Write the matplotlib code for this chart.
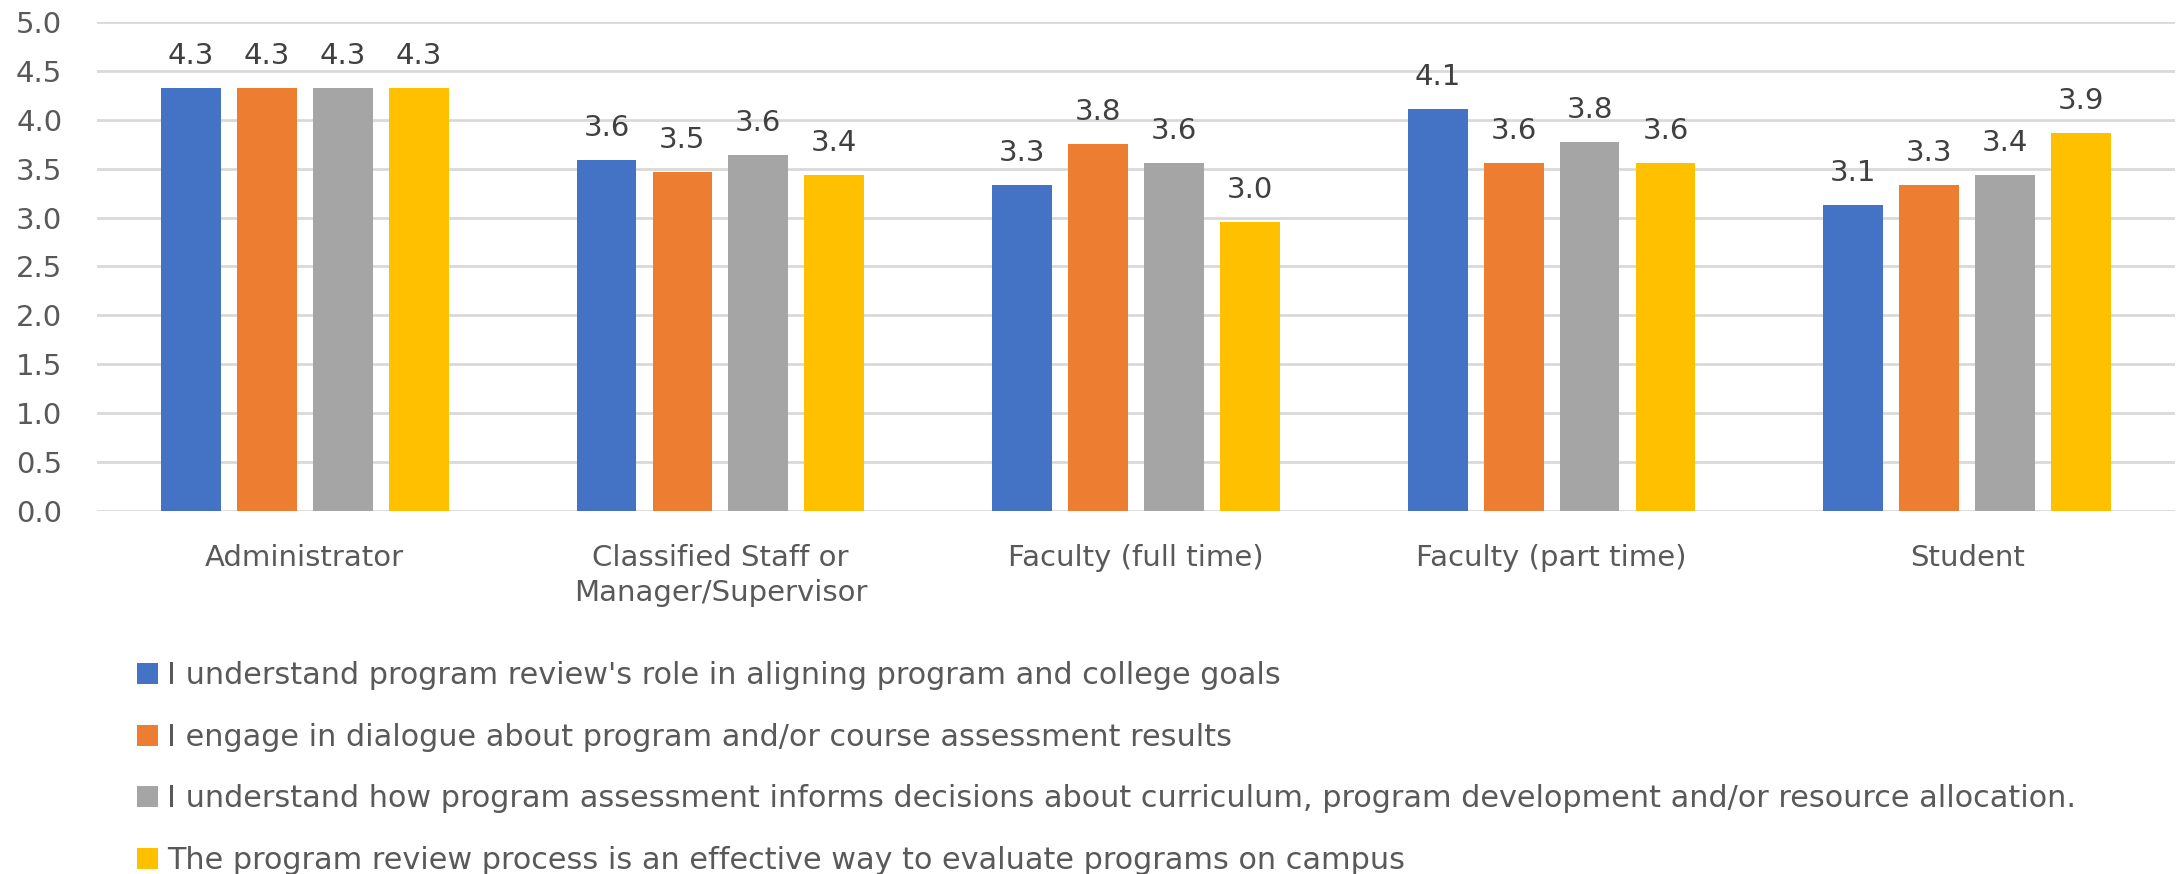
import matplotlib
matplotlib.use('Agg')
import matplotlib.pyplot as plt
import numpy as np
from matplotlib.patches import Patch

categories = ['Administrator', 'Classified Staff or\nManager/Supervisor',
              'Faculty (full time)', 'Faculty (part time)', 'Student']
series_names = [
    "I understand program review's role in aligning program and college goals",
    "I engage in dialogue about program and/or course assessment results",
    "I understand how program assessment informs decisions about curriculum, program development and/or resource allocation.",
    "The program review process is an effective way to evaluate programs on campus",
]
understand_role = [4.33, 3.59, 3.33, 4.11, 3.13]
engage_dialogue = [4.33, 3.47, 3.75, 3.56, 3.33]
assessment_informs = [4.33, 3.64, 3.56, 3.77, 3.44]
effective_process = [4.33, 3.44, 2.95, 3.56, 3.86]
series_values = [understand_role, engage_dialogue, assessment_informs, effective_process]
colors = ['#4472C4', '#ED7D31', '#A5A5A5', '#FFC000']
yticks = [0.0, 0.5, 1.0, 1.5, 2.0, 2.5, 3.0, 3.5, 4.0, 4.5, 5.0]

txt = '#595959'
fs = 21
plt.rcParams['font.family'] = ['DejaVu Sans']

fig = plt.figure(figsize=(21.78, 8.74), dpi=100)
ax = fig.add_axes([97 / 2178, 1 - 511 / 874, (2175 - 97) / 2178, (511 - 22) / 874])

x = np.arange(len(categories))
width = 0.144
step = 0.1827
for j, vals in enumerate(series_values):
    pos = x + (j - 1.5) * step
    bars = ax.bar(pos, vals, width, color=colors[j], zorder=3)
    for b, v in zip(bars, vals):
        ax.annotate(f'{v:.1f}', (b.get_x() + b.get_width() / 2, v),
                    xytext=(0, 24), textcoords='offset pixels',
                    ha='center', va='baseline', fontsize=fs, color='#404040')

ax.set_xlim(-0.5, len(categories) - 0.5)
ax.set_ylim(0, 5)
ax.set_yticks(yticks)
ax.set_yticklabels([f'{t:.1f}' for t in yticks])
ax.set_xticks(x)
ax.set_xticklabels(categories, linespacing=1.3)
ax.tick_params(axis='both', length=0, labelsize=fs, labelcolor=txt)
ax.tick_params(axis='y', pad=25)
ax.tick_params(axis='x', pad=24)
ax.grid(axis='y', color='#D9D9D9', linewidth=2, zorder=0)
for s in ax.spines.values():
    s.set_visible(False)

handles = [Patch(facecolor=c, edgecolor='none') for c in colors]
fig.legend(handles, series_names, loc='upper left', bbox_to_anchor=(137 / 2178, 1 - 661 / 874),
           frameon=False, fontsize=21.8, labelcolor=txt, handlelength=0.7, handleheight=0.7,
           handletextpad=0.3, labelspacing=1.08, borderpad=0, borderaxespad=0)

fig.savefig('out.png', dpi=100)
